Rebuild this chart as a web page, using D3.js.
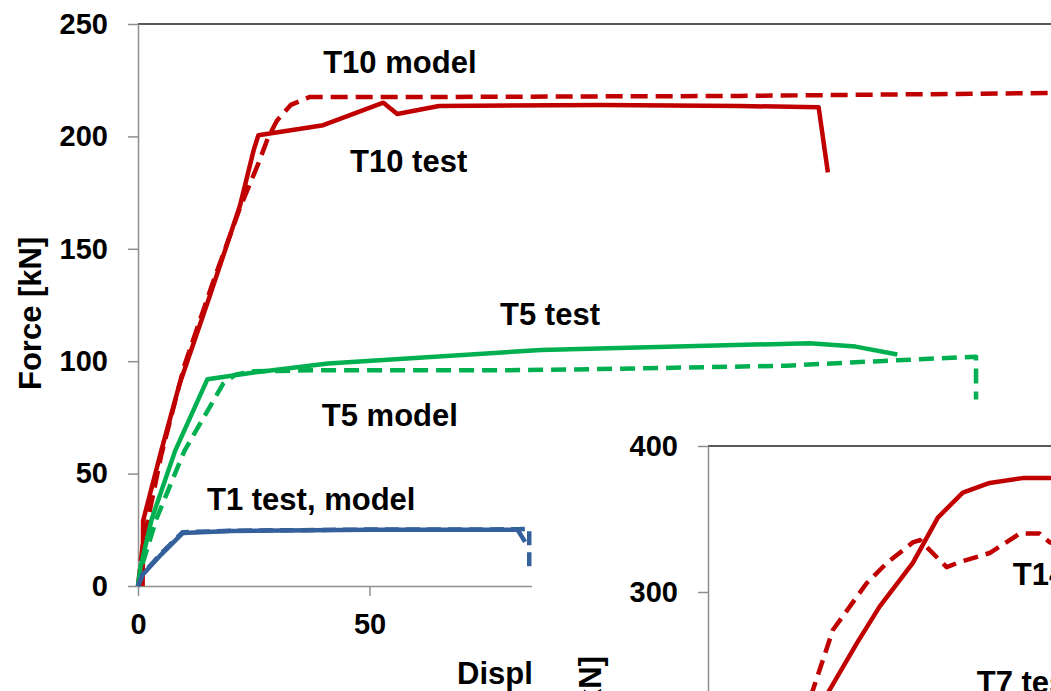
<html>
    <head>
        <script src="https://d3js.org/d3.v7.min.js"></script>
        <style>
            body { margin: 0; background: #fff; }
            svg { font-family: "Liberation Sans", Arial, sans-serif; font-weight: bold; }
            .line { fill: none; stroke-linejoin: round; }
            .axis path, .axis line { stroke: #8f8f8f; stroke-width: 1.5; }
            .axis text { font-size: 29px; font-weight: bold; fill: #000; }
            .label { font-size: 31px; fill: #000; }
        </style>
    </head>
    <body>
        <div id="chart"></div>
        <script>
        /* Data: [displacement mm, force kN] */
        var t10Test = [[1,0],[1.1,29],[5,60],[9,90],[15.5,129],[22,169],[25,194],[26,200.5],[40,205],[53,215],[56,210],[65,213.5],[100,214],[130,213.5],[147,213],[149,184]];
        var t10Model = [[0,0],[1,18],[5,58],[10,98],[16,134],[22,168],[26,188],[28,199],[30,207],[33,214],[37,217.5],[60,217.5],[100,217.8],[130,218],[155,218.5],[198,219.3]];
        var t5Test = [[0,0],[0.5,8],[3,30],[8,60],[15,92],[25,95],[41,99],[87,105],[145,108],[155,106.5],[164,103]];
        var t5Model = [[0,0],[1,10],[4,30],[10,60],[18.4,90],[21,94],[25,95.5],[40,96],[80,96],[100,96.5],[140,98],[160,100],[170,101],[181,102],[181,83]];
        var t1Test = [[0,0],[1,5],[5,14],[9.7,23.6],[20,24.5],[50,25],[82,25],[83.6,19.6]];
        var t1Model = [[0,0],[1,5.3],[5,14.5],[9.6,23.9],[20,24.6],[50,25.1],[82,25.2],[84.5,25.5],[84.5,7]];
        /* inset (T7 / T14) */
        var t7Test = [[20,200],[26.3,233],[32.2,265],[37.1,290],[44.3,320],[49.7,351],[55.1,368],[60.9,374.7],[68,378],[76,378]];
        var t14Model = [[18,200],[22.7,233],[27,274],[34.3,306],[38.7,320],[44.3,334],[45.8,335.6],[51.6,317],[54.4,320.5],[60.9,326.7],[67.4,340],[71.7,340],[73.9,334],[76,332]];

        var mainXTicks = [0, 50, 100, 150];
        var mainYTicks = [0, 50, 100, 150, 200, 250];
        var insetYTicks = [300, 400];
        var mainLabels = ["T10 model", "T10 test", "T5 test", "T5 model", "T1 test, model"];
        var insetLabels = ["T14 model", "T7 test"];

        var width = 1051;
        var height = 691;

        var svg = d3.select("#chart").append("svg")
            .attr("width", width)
            .attr("height", height);

        /* Scales */
        var xScale = d3.scaleLinear().domain([0, 200]).range([138, 1064]);
        var yScale = d3.scaleLinear().domain([0, 250]).range([586, 24]);
        var line = d3.line()
            .x(d => xScale(d[0]))
            .y(d => yScale(d[1]));

        var red = "#c00000", green = "#00b050", blue = "#34609c";

        /* top frame line */
        svg.append("line")
            .attr("x1", xScale(0)).attr("x2", width)
            .attr("y1", yScale(250)).attr("y2", yScale(250))
            .attr("stroke", "#222").attr("stroke-width", 1.5);

        /* Axes */
        svg.append("g")
            .attr("class", "axis")
            .attr("transform", `translate(${xScale(0)},0)`)
            .call(d3.axisLeft(yScale).tickValues(mainYTicks).tickSizeInner(10).tickSizeOuter(0).tickPadding(20));
        svg.append("g")
            .attr("class", "axis")
            .attr("transform", `translate(0,${yScale(0)})`)
            .call(d3.axisBottom(xScale).tickValues(mainXTicks).tickSizeInner(10).tickSizeOuter(0).tickPadding(17));

        svg.append("text")
            .attr("class", "label")
            .attr("transform", "translate(41,390) rotate(-90)")
            .text("Force [kN]");
        svg.append("text")
            .attr("class", "label")
            .attr("x", 457).attr("y", 684)
            .text("Displacement [mm]");

        /* Lines */
        var series = [
            {d: t10Test, c: red, dash: null},
            {d: t10Model, c: red, dash: "17,8"},
            {d: t5Test, c: green, dash: null},
            {d: t5Model, c: green, dash: "15,8"},
            {d: t1Test, c: blue, dash: null},
            {d: t1Model, c: blue, dash: "14,7"}
        ];
        svg.append("g").selectAll("path")
            .data(series).enter()
            .append("path")
            .attr("class", "line")
            .attr("d", s => line(s.d))
            .attr("stroke", s => s.c)
            .attr("stroke-width", 4.5)
            .attr("stroke-dasharray", s => s.dash);

        var labelPos = [[40, 228], [45.8, 184], [78.2, 116], [39.7, 71], [14.9, 33.8]];
        svg.append("g").selectAll("text")
            .data(mainLabels).enter()
            .append("text")
            .attr("class", "label")
            .attr("x", (d, i) => xScale(labelPos[i][0]))
            .attr("y", (d, i) => yScale(labelPos[i][1]))
            .text(d => d);

        /* Inset chart */
        var inset = svg.append("g");
        inset.append("rect")
            .attr("x", 532).attr("y", 428)
            .attr("width", width - 532).attr("height", height - 428)
            .attr("fill", "#fff");

        var ix = d3.scaleLinear().domain([0, 80]).range([708, 1078]);
        var iy = d3.scaleLinear().domain([0, 400]).range([1030, 446]);
        var iline = d3.line()
            .x(d => ix(d[0]))
            .y(d => iy(d[1]));

        inset.append("line")
            .attr("x1", ix(0)).attr("x2", width)
            .attr("y1", iy(400)).attr("y2", iy(400))
            .attr("stroke", "#222").attr("stroke-width", 1.5);
        inset.append("g")
            .attr("class", "axis")
            .attr("transform", `translate(${ix(0)},0)`)
            .call(d3.axisLeft(iy).tickValues(insetYTicks).tickSizeInner(10).tickSizeOuter(0).tickPadding(20));

        inset.append("text")
            .attr("class", "label")
            .attr("text-anchor", "end")
            .attr("transform", "translate(601,656) rotate(-90)")
            .text("Force [kN]");

        inset.append("path")
            .attr("class", "line")
            .attr("d", iline(t7Test))
            .attr("stroke", red)
            .attr("stroke-width", 4.5);
        inset.append("path")
            .attr("class", "line")
            .attr("d", iline(t14Model))
            .attr("stroke", red)
            .attr("stroke-width", 4.5)
            .attr("stroke-dasharray", "15,8");

        var insetLabelPos = [[65.9, 304.8], [58.1, 230.8]];
        inset.selectAll(".ilabel")
            .data(insetLabels).enter()
            .append("text")
            .attr("class", "label ilabel")
            .attr("x", (d, i) => ix(insetLabelPos[i][0]))
            .attr("y", (d, i) => iy(insetLabelPos[i][1]))
            .text(d => d);
        </script>
    </body>
</html>
